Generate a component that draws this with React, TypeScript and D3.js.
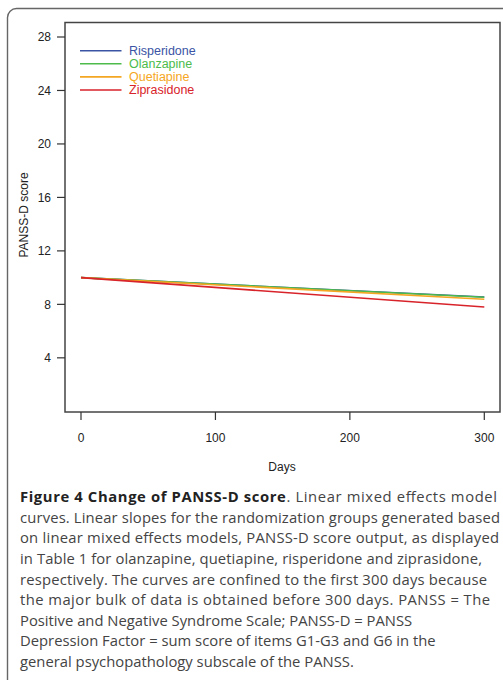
import React from "react";
import * as d3 from "d3";

const days = [0, 300];
const risperidone = [10.0, 8.55];
const olanzapine = [10.0, 8.53];
const quetiapine = [10.0, 8.38];
const ziprasidone = [10.0, 7.8];

const seriesNames = ["Risperidone", "Olanzapine", "Quetiapine", "Ziprasidone"];
const seriesValues = [risperidone, olanzapine, quetiapine, ziprasidone];
const seriesColors = ["#3b54a4", "#4cbb4c", "#f5a623", "#d8232a"];

const yTicks = [4, 8, 12, 16, 20, 24, 28];
const xTicks = [0, 100, 200, 300];

const captionBold = "Figure 4 Change of PANSS-D score";
const captionLines = [
  ". Linear mixed effects model",
  "curves. Linear slopes for the randomization groups generated based",
  "on linear mixed effects models, PANSS-D score output, as displayed",
  "in Table 1 for olanzapine, quetiapine, risperidone and ziprasidone,",
  "respectively. The curves are confined to the first 300 days because",
  "the major bulk of data is obtained before 300 days. PANSS = The",
  "Positive and Negative Syndrome Scale; PANSS-D = PANSS",
  "Depression Factor = sum score of items G1-G3 and G6 in the",
  "general psychopathology subscale of the PANSS.",
];
// justified lines (line widths in the printed caption)
const captionWidths = [477, 480, 479, 462, 467, 470, 0, 0, 0];

export default function App() {
  const x = d3.scaleLinear().domain([0, 300]).range([81, 484.3]);
  const y = d3.scaleLinear().domain([0, 28]).range([411.3, 37]);
  const box = { left: 65, top: 22.5, right: 500, bottom: 412 };
  const line = d3
    .line<[number, number]>()
    .x((d) => x(d[0]))
    .y((d) => y(d[1]));
  const axisFont = "Liberation Sans, Arial, sans-serif";
  const capFont = "Open Sans, sans-serif";

  return (
    <svg
      width={503}
      height={680}
      style={{ position: "absolute", left: 0, top: 0, background: "#fff" }}
    >
      <rect x={7.5} y={8.5} width={520} height={700} rx={9} fill="none" stroke="#666" strokeWidth={1.4} />
      {/* plot box */}
      <rect
        x={box.left}
        y={box.top}
        width={box.right - box.left}
        height={box.bottom - box.top}
        fill="none"
        stroke="#444"
        strokeWidth={1.5}
      />
      {/* y axis */}
      {yTicks.map((t) => (
        <g key={"y" + t}>
          <line x1={57} x2={box.left} y1={y(t)} y2={y(t)} stroke="#333" strokeWidth={1.2} />
          <text x={51} y={y(t)} dy="0.35em" textAnchor="end" fontFamily={axisFont} fontSize={12} fill="#222">
            {t}
          </text>
        </g>
      ))}
      {/* x axis */}
      {xTicks.map((t) => (
        <g key={"x" + t}>
          <line x1={x(t)} x2={x(t)} y1={box.bottom} y2={420} stroke="#333" strokeWidth={1.2} />
          <text x={x(t)} y={438} dy="0.35em" textAnchor="middle" fontFamily={axisFont} fontSize={12} fill="#222">
            {t}
          </text>
        </g>
      ))}
      <text x={282} y={467} dy="0.35em" textAnchor="middle" fontFamily={axisFont} fontSize={12} fill="#222">
        Days
      </text>
      <text
        transform={`translate(24,215) rotate(-90)`}
        dy="0.35em"
        textAnchor="middle"
        fontFamily={axisFont}
        fontSize={12}
        fill="#222"
      >
        PANSS-D score
      </text>
      {/* lines */}
      {seriesValues.map((vals, i) => (
        <path
          key={seriesNames[i]}
          d={line(days.map((d, j) => [d, vals[j]]) as [number, number][]) || ""}
          fill="none"
          stroke={seriesColors[i]}
          strokeWidth={1.6}
        />
      ))}
      {/* legend */}
      {seriesNames.map((n, i) => (
        <g key={"leg" + n}>
          <line x1={80} x2={121.5} y1={50.7 + i * 13.1} y2={50.7 + i * 13.1} stroke={seriesColors[i]} strokeWidth={1.6} />
          <text x={129} y={50.7 + i * 13.1} dy="0.35em" fontFamily={axisFont} fontSize={12.5} fill={seriesColors[i]}>
            {n}
          </text>
        </g>
      ))}
      {/* caption */}
      {captionLines.map((l, i) => {
        const extra =
          captionWidths[i] > 0 ? { textLength: captionWidths[i], lengthAdjust: "spacing" } : {};
        return (
          <text
            key={"cap" + i}
            x={20}
            y={497 + i * 20.6}
            dy="0.35em"
            fontFamily={capFont}
            fontSize={14.8}
            fill="#444"
            {...extra}
          >
            {i === 0 ? (
              <>
                <tspan fontWeight="bold" fill="#222">
                  {captionBold}
                </tspan>
                <tspan>{l}</tspan>
              </>
            ) : (
              l
            )}
          </text>
        );
      })}
    </svg>
  );
}
